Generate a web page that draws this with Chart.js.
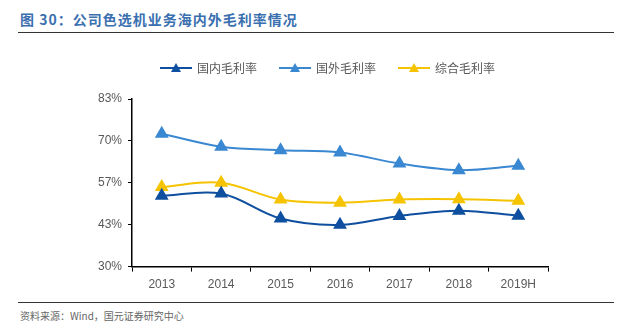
<!DOCTYPE html>
<html>
<head>
<meta charset="utf-8">
<script src="https://cdn.jsdelivr.net/npm/chart.js@4"></script>
<style>
  body { margin: 0; background: #fff; font-family: "Noto Sans CJK SC", "Liberation Sans", sans-serif; }
  #wrap { position: relative; width: 634px; height: 330px; }
  #title { position: absolute; left: 20px; top: 9px; font-size: 14px; font-weight: bold; color: #3a6fb0; letter-spacing: 1px; }
  #topline { position: absolute; left: 18px; top: 32px; width: 596px; height: 1px; background: #333; }
  #botline { position: absolute; left: 18px; top: 302px; width: 596px; height: 1px; background: #333; }
  #source { position: absolute; left: 20px; top: 308px; font-size: 10px; color: #666; }
  #box { position: absolute; left: 0; top: 40px; width: 634px; height: 260px; }
</style>
</head>
<body>
<div id="wrap">
  <div id="title">图 30：公司色选机业务海内外毛利率情况</div>
  <div id="topline"></div>
  <div id="box"><canvas id="myChart"></canvas></div>
  <div id="botline"></div>
  <div id="source">资料来源：Wind，国元证券研究中心</div>
</div>
<script>
const years = ['2013', '2014', '2015', '2016', '2017', '2018', '2019H']
const domestic = [52.4, 53.1, 45.2, 43.2, 46.0, 47.7, 46.1]   // 国内毛利率
const overseas = [72.0, 67.9, 66.8, 66.1, 62.6, 60.5, 61.9]   // 国外毛利率
const overall = [55.2, 56.5, 51.2, 50.2, 51.2, 51.3, 50.8]    // 综合毛利率
const seriesNames = ['国内毛利率', '国外毛利率', '综合毛利率']
const colors = ['#0f4f9f', '#3a88d2', '#f5c300']

// legend: line + triangle, drawn by hand
const legendPlugin = {
  id: 'lineLegend',
  afterDraw(chart) {
    const c = chart.ctx
    const xs = [160, 279, 398]
    const y = 28
    c.save()
    chart.data.datasets.forEach((ds, i) => {
      const x = xs[i]
      c.strokeStyle = ds.borderColor
      c.lineWidth = 2
      c.beginPath(); c.moveTo(x, y); c.lineTo(x + 32, y); c.stroke()
      c.fillStyle = ds.borderColor
      c.beginPath(); c.moveTo(x + 16, y - 5); c.lineTo(x + 21, y + 4); c.lineTo(x + 11, y + 4); c.closePath(); c.fill()
      c.fillStyle = '#595959'
      c.font = '12px "Noto Sans CJK SC"'
      c.textBaseline = 'middle'
      c.fillText(ds.label, x + 37, y)
    })
    c.restore()
  }
}

const mkSet = (label, data, color) => ({
  label: label,
  data: data,
  borderColor: color,
  backgroundColor: color,
  borderWidth: 2,
  pointStyle: 'triangle',
  pointRadius: 6,
  pointHoverRadius: 6,
  tension: 0.35,
  fill: false
})

const ctx = document.getElementById('myChart').getContext('2d')
new Chart(ctx, {
  type: 'line',
  data: {
    labels: years,
    datasets: [
      mkSet(seriesNames[0], domestic, colors[0]),
      mkSet(seriesNames[1], overseas, colors[1]),
      mkSet(seriesNames[2], overall, colors[2])
    ]
  },
  options: {
    responsive: true,
    maintainAspectRatio: false,
    animation: false,
    layout: { padding: { left: 92, right: 86, top: 59, bottom: 2 } },
    plugins: { legend: { display: false }, tooltip: { enabled: false } },
    scales: {
      x: {
        offset: true,
        grid: { display: true, drawOnChartArea: false, offset: true, color: '#000', tickLength: 5 },
        border: { color: '#000', width: 1.5 },
        ticks: { color: '#595959', font: { size: 12, family: 'Liberation Sans' }, padding: 6 }
      },
      y: {
        min: 30,
        max: 83,
        grid: { display: true, drawOnChartArea: false, color: '#000', tickLength: 4 },
        border: { color: '#000', width: 1.5 },
        ticks: {
          stepSize: 13.25,
          color: '#595959',
          font: { size: 12, family: 'Liberation Sans' },
          padding: 6,
          callback: v => Math.round(v) + '%'
        }
      }
    }
  },
  plugins: [legendPlugin]
})
</script>
</body>
</html>
